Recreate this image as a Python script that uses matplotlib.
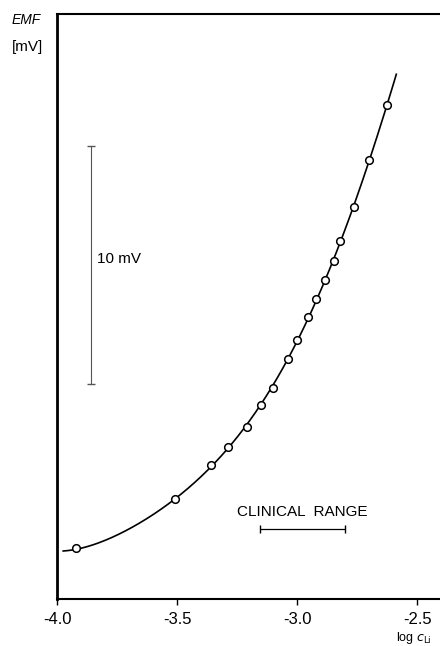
import numpy as np
import matplotlib
matplotlib.use('Agg')
import matplotlib.pyplot as plt

plt.rcParams['font.family'] = ['Liberation Sans', 'DejaVu Sans']

# measured points: log c_Li vs EMF (mV, arbitrary zero)
log_c = [-3.92, -3.51, -3.36, -3.29, -3.21, -3.15, -3.10, -3.04, -3.00,
         -2.955, -2.92, -2.885, -2.845, -2.82, -2.765, -2.70, -2.625]
emf = [2.14, 4.22, 5.65, 6.39, 7.23, 8.14, 8.88, 10.10, 10.89,
       11.86, 12.61, 13.41, 14.18, 15.04, 16.47, 18.43, 20.76]

# extra points (ends and the gap)
curve_x = [-3.975, -3.80, -3.66, -3.59, -2.587]
curve_y = [2.00, 2.49, 3.12, 3.61, 22.04]

clinical = [-3.155, -2.80]
bar_mv = 10

fig = plt.figure(figsize=(4.40, 6.46), dpi=100)
ax = fig.add_axes([0.130, 0.0723, 0.870, 0.906])

fx = np.array(log_c + curve_x)
fy = np.array(emf + curve_y)
coef = np.polyfit(fx, fy, 5)
xs = np.linspace(min(curve_x), max(curve_x), 300)
ax.plot(xs, np.polyval(coef, xs), color='black', lw=1.2)
ax.plot(log_c, emf, 'o', ms=5.5, mfc='white', mec='black', mew=1.1)

# 10 mV scale bar
ax.errorbar([-3.86], [14.03], yerr=[bar_mv / 2], color='#555555', lw=0.8,
            capsize=3, capthick=1)
ax.text(-3.835, 14.3, '10 mV', fontsize=11, va='center', ha='left')

# clinical range
ax.errorbar([np.mean(clinical)], [2.96], xerr=[(clinical[1] - clinical[0]) / 2],
            color='black', lw=0.9, capsize=3, capthick=1)
ax.text(np.mean(clinical), 3.65, 'CLINICAL  RANGE', fontsize=11,
        ha='center', va='center')

ax.set_xlim(-4.0, -2.405)
ax.set_ylim(0, 24.56)
ax.set_xticks([-4.0, -3.5, -3.0, -2.5])
ax.set_xticklabels(['-4.0', '-3.5', '-3.0', '-2.5'], fontsize=12)
ax.set_yticks([])
ax.tick_params(axis='x', direction='out', length=4, width=1, pad=5)
ax.spines['right'].set_visible(False)
ax.spines['left'].set_linewidth(2)
ax.spines['top'].set_linewidth(1.5)
ax.spines['bottom'].set_linewidth(1.5)

fig.text(0.027, 0.969, 'EMF', fontsize=10, style='italic', ha='left', va='center')
fig.text(0.027, 0.927, '[mV]', fontsize=11, ha='left', va='center')
fig.text(0.94, 0.0124, r'log $c_{\mathrm{Li}}$', fontsize=9, ha='center', va='center')

fig.savefig('out.png', dpi=100)
